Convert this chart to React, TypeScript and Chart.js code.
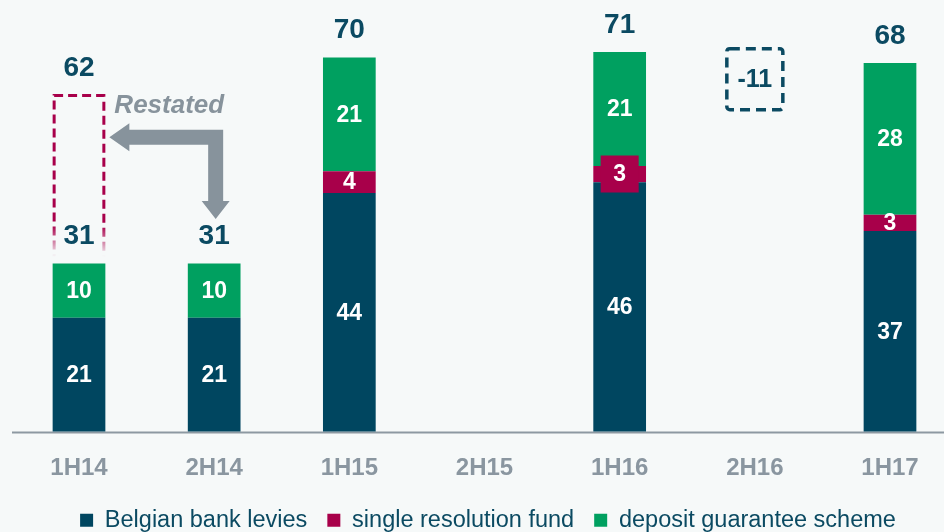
import React, { useEffect, useRef } from "react";
import { Chart, registerables } from "chart.js";

Chart.register(...registerables);

// ---------- data ----------
const categories = ["1H14", "2H14", "1H15", "2H15", "1H16", "2H16", "1H17"];
const belgianLevies = [21, 21, 44, null, 46, null, 37];
const singleResolution = [null, null, 4, null, 3, null, 3];
const depositGuarantee = [10, 10, 21, null, 21, null, 28];
const totalLabels = [31, 31, 70, null, 71, null, 68];
const seriesNames = ["Belgian bank levies", "single resolution fund", "deposit guarantee scheme"];

const restatedIndex = 0;
const restatedTotal = 62;
const restatedText = "Restated";
const deltaIndex = 5;
const deltaText = "-11";
const deltaLevel = 65;

// ---------- style ----------
const FONT = "'Liberation Sans', Arial, Helvetica, sans-serif";
const NAVY = "#004660";
const CRIMSON = "#A8004A";
const GREEN = "#00A060";
const LABEL_NAVY = "#0B4A62";
const GREY = "#8A96A0";
const ARROW_GREY = "#87939C";
const BG = "#F6F9F9";
const INNER_H = 542;

const overlayPlugin = {
  id: "overlay",
  beforeDatasetsDraw(chart: any) {
    const { ctx } = chart;
    const y = chart.scales.y;
    const y0 = y.getPixelForValue(0);
    ctx.save();
    ctx.strokeStyle = "#8D99A2";
    ctx.lineWidth = 2;
    ctx.beginPath();
    ctx.moveTo(12, y0 + 1);
    ctx.lineTo(chart.width, y0 + 1);
    ctx.stroke();
    ctx.restore();
  },
  afterDatasetsDraw(chart: any) {
    const { ctx } = chart;
    const y = chart.scales.y;
    const xs = chart.scales.x;
    ctx.save();
    ctx.textAlign = "center";
    ctx.textBaseline = "middle";

    // segment labels
    chart.data.datasets.forEach((ds: any, di: number) => {
      const meta = chart.getDatasetMeta(di);
      ds.data.forEach((v: any, j: number) => {
        if (v == null) return;
        const el: any = meta.data[j];
        const cy = (el.y + el.base) / 2;
        if (di === 1 && j === 4) {
          ctx.fillStyle = CRIMSON;
          ctx.fillRect(el.x - 19, cy - 18.5, 38, 37);
        }
        ctx.fillStyle = "#FFFFFF";
        ctx.font = `bold 23px ${FONT}`;
        ctx.fillText(String(v), el.x, cy + 1);
      });
    });

    // totals
    totalLabels.forEach((t, j) => {
      if (t == null) return;
      let top = Infinity;
      chart.data.datasets.forEach((ds: any, di: number) => {
        if (ds.data[j] == null) return;
        const el: any = chart.getDatasetMeta(di).data[j];
        top = Math.min(top, el.y);
      });
      ctx.fillStyle = LABEL_NAVY;
      ctx.font = `bold 28px ${FONT}`;
      ctx.fillText(String(t), xs.getPixelForValue(j), top - 27);
    });

    // restated dashed box
    const bar0: any = chart.getDatasetMeta(0).data[restatedIndex];
    const bx0 = bar0.x - bar0.width / 2 + 1.5;
    const bx1 = bar0.x + bar0.width / 2 - 1.5;
    const rTop = y.getPixelForValue(restatedTotal);
    let stackTop = Infinity;
    chart.data.datasets.forEach((ds: any, di: number) => {
      if (ds.data[restatedIndex] == null) return;
      stackTop = Math.min(stackTop, chart.getDatasetMeta(di).data[restatedIndex].y);
    });
    const grad = ctx.createLinearGradient(0, rTop, 0, stackTop);
    const fadeStart = (stackTop - 38 - rTop) / (stackTop - rTop);
    grad.addColorStop(0, CRIMSON);
    grad.addColorStop(Math.max(0, fadeStart), CRIMSON);
    grad.addColorStop(0.96, "rgba(168,0,74,0)");
    grad.addColorStop(1, "rgba(168,0,74,0)");
    ctx.strokeStyle = grad;
    ctx.lineWidth = 3;
    ctx.setLineDash([9, 5]);
    ctx.beginPath();
    ctx.moveTo(bx0, stackTop);
    ctx.lineTo(bx0, rTop);
    ctx.lineTo(bx1, rTop);
    ctx.lineTo(bx1, stackTop);
    ctx.stroke();
    ctx.setLineDash([]);
    ctx.fillStyle = LABEL_NAVY;
    ctx.font = `bold 28px ${FONT}`;
    ctx.fillText(String(restatedTotal), bar0.x, rTop - 27);

    // restated arrow
    const bar1: any = chart.getDatasetMeta(0).data[restatedIndex + 1];
    const tipX = bar0.x + bar0.width / 2 + 4;
    const hy = y.getPixelForValue(54.3);
    const hx = bar1.x + 1.5;
    const headY = y.getPixelForValue(42.5);
    const tipY = y.getPixelForValue(39.2);
    const t = 7.5;
    const hh = 14;
    const hl = 20;
    ctx.fillStyle = ARROW_GREY;
    ctx.beginPath();
    ctx.moveTo(tipX, hy);
    ctx.lineTo(tipX + hl, hy - hh);
    ctx.lineTo(tipX + hl, hy - t);
    ctx.lineTo(hx + t, hy - t);
    ctx.lineTo(hx + t, headY);
    ctx.lineTo(hx + hh, headY);
    ctx.lineTo(hx, tipY);
    ctx.lineTo(hx - hh, headY);
    ctx.lineTo(hx - t, headY);
    ctx.lineTo(hx - t, hy + t);
    ctx.lineTo(tipX + hl, hy + t);
    ctx.lineTo(tipX + hl, hy + hh);
    ctx.closePath();
    ctx.fill();

    ctx.fillStyle = ARROW_GREY;
    ctx.font = `italic bold 26px ${FONT}`;
    ctx.textAlign = "left";
    ctx.fillText(restatedText, bar0.x + bar0.width / 2 + 9, y.getPixelForValue(60));

    // delta box
    const dx = xs.getPixelForValue(deltaIndex);
    const dy = y.getPixelForValue(deltaLevel);
    const w = 56;
    const h = 61;
    ctx.strokeStyle = LABEL_NAVY;
    ctx.lineWidth = 3.5;
    ctx.setLineDash([10, 6]);
    ctx.beginPath();
    if (ctx.roundRect) ctx.roundRect(dx - w / 2, dy - h / 2, w, h, 3);
    else ctx.rect(dx - w / 2, dy - h / 2, w, h);
    ctx.stroke();
    ctx.setLineDash([]);
    ctx.textAlign = "center";
    ctx.fillStyle = LABEL_NAVY;
    ctx.font = `bold 25px ${FONT}`;
    ctx.fillText(deltaText, dx, dy + 1);

    ctx.restore();
  },
};

export default function App() {
  const canvasRef = useRef<HTMLCanvasElement | null>(null);

  useEffect(() => {
    if (!canvasRef.current) return;
    const chart = new Chart(canvasRef.current, {
      type: "bar",
      data: {
        labels: categories,
        datasets: [
          { label: seriesNames[0], data: belgianLevies, backgroundColor: NAVY, borderWidth: 0, clip: false },
          { label: seriesNames[1], data: singleResolution, backgroundColor: CRIMSON, borderWidth: 0, clip: false },
          { label: seriesNames[2], data: depositGuarantee, backgroundColor: GREEN, borderWidth: 0, clip: false },
        ] as any,
      },
      options: {
        animation: false,
        responsive: true,
        maintainAspectRatio: false,
        layout: { padding: { left: 32, right: 0, top: 0, bottom: 0 } },
        datasets: { bar: { categoryPercentage: 0.39, barPercentage: 1 } } as any,
        scales: {
          x: {
            stacked: true,
            offset: false,
            grid: { display: false, drawTicks: false },
            border: { display: false },
            ticks: { color: GREY, font: { size: 24, weight: "bold", family: FONT }, padding: 22 },
            afterFit: (s: any) => {
              s.height = 57;
            },
          },
          y: {
            stacked: true,
            min: 0,
            max: 79.6,
            display: true,
            ticks: { display: false },
            grid: { display: false },
            border: { display: false },
            afterFit: (s: any) => {
              s.width = 47;
            },
          },
          yR: {
            position: "right",
            display: true,
            ticks: { display: false },
            grid: { display: false },
            border: { display: false },
            afterFit: (s: any) => {
              s.width = 54;
            },
          },
        },
        plugins: {
          legend: {
            position: "bottom",
            labels: {
              boxWidth: 13,
              boxHeight: 13,
              color: LABEL_NAVY,
              font: { size: 23.5, family: FONT },
              padding: 20,
            },
          },
          tooltip: { enabled: false },
        },
      } as any,
      plugins: [overlayPlugin],
    });
    return () => chart.destroy();
  }, []);

  return (
    <div style={{ position: "absolute", left: 0, top: 0, width: 944, height: 532, overflow: "hidden", background: BG }}>
      <div style={{ position: "relative", width: 944, height: INNER_H }}>
        <canvas ref={canvasRef} />
      </div>
    </div>
  );
}
